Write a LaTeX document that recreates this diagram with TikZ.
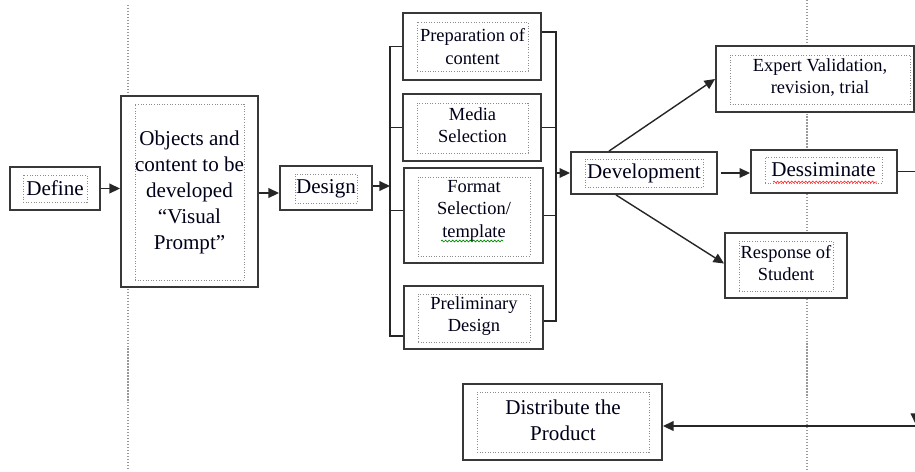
\documentclass[tikz,border=0pt]{standalone}
\usepackage{fontspec}
\setmainfont{Liberation Serif}
\usetikzlibrary{fit,arrows.meta,calc,decorations.pathmorphing}
\begin{document}
\begin{tikzpicture}[x=0.02cm,y=-0.02cm,
  outer/.style={draw=black!78, line width=1.1pt, fill=white, inner sep=0pt},
  inner/.style={draw=black!45, densely dotted, line width=0.5pt, inner sep=0pt},
  bigtxt/.style={font=\fontsize{12}{14.8}\selectfont, align=center, inner sep=0pt, text=black!90!blue},
  smalltxt/.style={font=\fontsize{10.5}{12.8}\selectfont, align=center, inner sep=0pt, text=black!90!blue},
  conn/.style={draw=black!85, line width=0.8pt},
  arr/.style={conn, -{Triangle[length=6pt,width=5.5pt]}},
  guide/.style={draw=black!40, densely dotted, line width=0.7pt},
  wavy/.style={decorate, decoration={snake, amplitude=0.5pt, segment length=2pt}, line width=0.4pt}
]
\useasboundingbox (0,0) rectangle (915,471);

% guide lines
\coordinate (g1t) at (128,5);   \coordinate (g1b) at (128,468);
\coordinate (g2t) at (807,0);   \coordinate (g2b) at (807,471);
\draw[guide] (g1t) -- (g1b);
\draw[guide] (g2t) -- (g2b);

% Define
\node[outer, fit={(10,167)(100,210)}] (def) {};
\node[inner, fit={(23,175)(87,202)}] (defin) {};
\node[bigtxt] (deft) at (defin.center) {Define};

% Objects
\node[outer, fit={(121,96)(258,287)}] (obj) {};
\node[inner, fit={(135,104)(244,280)}] (objin) {};
\node[bigtxt] (objt) at (objin.center) {Objects and\\content to be\\developed\\``Visual\\Prompt''};

% Design
\node[outer, fit={(280,166)(372,210)}] (design) {};
\node[inner, fit={(295,174)(357,203)}] (designin) {};
\node[bigtxt] (designt) at (designin.center) {Design};

% Preparation
\node[outer, fit={(403,13)(541,80)}] (prep) {};
\node[inner, fit={(417,22)(528,71)}] (prepin) {};
\node[smalltxt] (prept) at (prepin.center) {Preparation of\\content};

% Media
\node[outer, fit={(403,94)(541,161)}] (media) {};
\node[inner, fit={(417,103)(528,153)}] (mediain) {};
\node[smalltxt] (mediat) at ($(mediain.center)+(0,-3)$) {Media\\Selection};

% Format
\node[outer, fit={(404,168)(543,263)}] (format) {};
\node[inner, fit={(418,177)(530,256)}] (formatin) {};
\node[smalltxt] (formatt) at ($(formatin.center)+(0,-6)$) {Format\\Selection/\\template};
\draw[wavy, draw=black!45!green] (441,241) -- (503,241);

% Preliminary
\node[outer, fit={(404,286)(543,349)}] (prelim) {};
\node[inner, fit={(418,294)(530,342)}] (prelimin) {};
\node[smalltxt] (prelimt) at ($(prelimin.center)+(0,-2)$) {Preliminary\\Design};

% Development
\node[outer, fit={(571,152)(717,194)}] (dev) {};
\node[inner, fit={(585,159)(703,187)}] (devin) {};
\node[bigtxt] (devt) at (devin.center) {Development};

% Dessiminate
\node[outer, fit={(751,150)(897,193)}] (diss) {};
\node[inner, fit={(765,157)(882,183)}] (dissin) {};
\node[bigtxt] (disst) at (dissin.center) {Dessiminate};
\draw[wavy, draw=red!80] (773,182) -- (877,182);

% Expert
\node[outer, fit={(716,46)(914,112)}] (exp) {};
\node[inner, fit={(730,55)(910,104)}] (expin) {};
\node[smalltxt] (expt) at ($(expin.center)+(0,-2)$) {Expert Validation,\\revision, trial};

% Response
\node[outer, fit={(725,233)(847,298)}] (resp) {};
\node[inner, fit={(739,241)(833,291)}] (respin) {};
\node[smalltxt] (respt) at ($(respin.center)+(0,-3)$) {Response of\\Student};

% Distribute
\node[outer, fit={(463,384)(662,460)}] (dist) {};
\node[inner, fit={(477,392)(649,452)}] (distin) {};
\node[bigtxt] (distt) at ($(distin.center)+(0,-2)$) {Distribute the\\Product};

% connectors
\draw[arr] (def.east) -- (def.east -| obj.west);
\draw[arr] ([yshift=-0.1cm]obj.east |- design.west) -- ([yshift=-0.1cm]design.west);

\coordinate (lbT) at (390,47);
\coordinate (lbB) at (390,336);
\draw[arr] ([yshift=0.04cm]design.east) -- ([yshift=0.04cm]design.east -| lbT);
\draw[conn] (prep.west) -| (lbT) -- (lbB) -- (lbB -| prelim.west);
\draw[conn] (media.west) -- (media.west -| lbT);
\draw[conn] ([yshift=0.1cm]format.west) -- ([yshift=0.1cm]format.west -| lbT);

\coordinate (rbT) at (556,32);
\coordinate (rbB) at (556,321);
\draw[conn] (prep.east |- rbT) -- (rbT) -- (rbB) -- (rbB -| prelim.east);
\draw[conn] (media.east) -- (media.east -| rbT);
\draw[conn] (format.east) -- (format.east -| rbT);
\draw[arr] (dev.west -| rbT) -- (dev.west);

\draw[arr] ($(dev.east)+(3,0)$) -- (dev.east -| diss.west);
\draw[arr] ($(dev.north west)+(39,0)$) -- (exp.west);
\draw[arr] ($(dev.south west)+(46,0)$) -- ($(resp.west)+(0,-2)$);

\coordinate (rc) at (915.5,426);
\draw[arr] (diss.east) -| ($(rc)+(0,-2)$);
\draw[arr] (rc) -- (rc -| dist.east);
\end{tikzpicture}
\end{document}
